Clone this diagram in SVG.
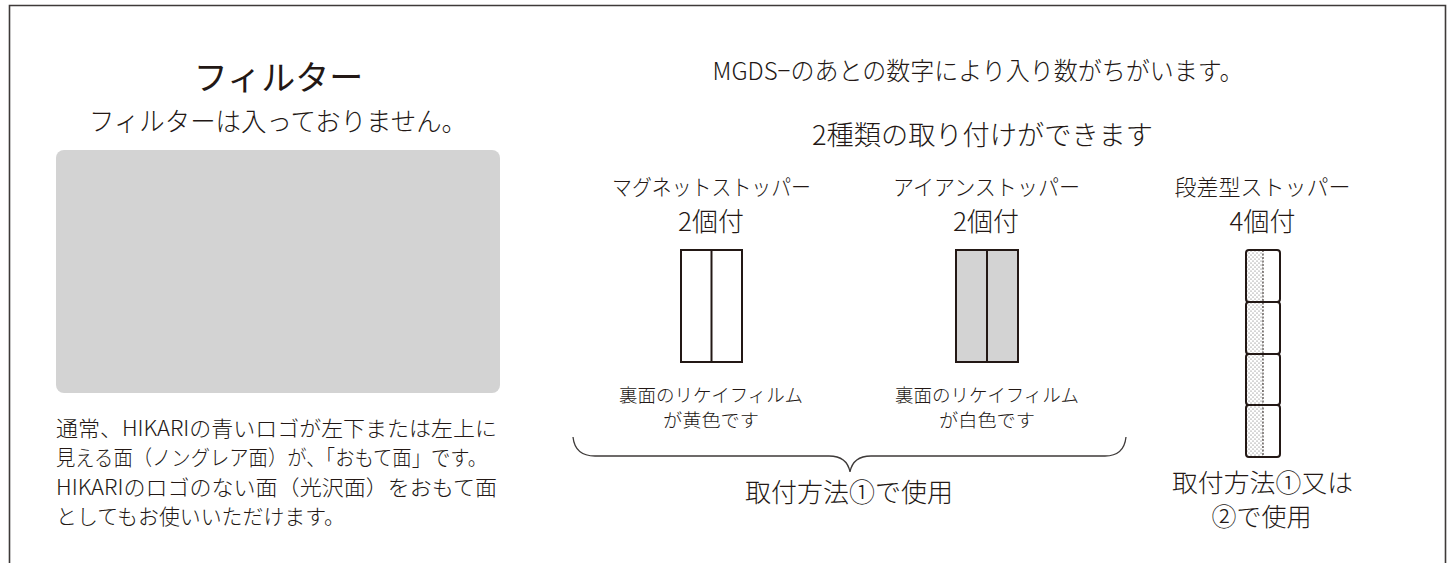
<svg xmlns="http://www.w3.org/2000/svg" width="1452" height="563" viewBox="0 0 1452 563">
<style>
text{font-family:"Noto Sans CJK JP","Liberation Sans",sans-serif;fill:#231815;font-weight:300}
.c{text-anchor:middle}
.ln{fill:none;stroke:#231815;stroke-width:2}
.lbl{font-size:22px}
.cnt{font-size:26px}
.note{font-size:18.5px}
.body{font-size:21px}
</style>
<defs>
<pattern id="dots" width="4" height="4" patternUnits="userSpaceOnUse">
<circle cx="1" cy="1" r="0.55" fill="#555"/>
<circle cx="3" cy="3" r="0.55" fill="#555"/>
</pattern>
</defs>
<rect width="1452" height="563" fill="#fff"/>
<path d="M9.5,563 V5.5 H1445.5 V563" fill="none" stroke="#3e3a39" stroke-width="1.6"/>
<g id="filter">
<text class="c" x="278.5" y="90" font-size="34" style="font-weight:400">フィルター</text>
<text class="c" x="278" y="131" font-size="26.5" textLength="378" lengthAdjust="spacingAndGlyphs">フィルターは入っておりません。</text>
<rect x="56" y="150" width="444" height="243" rx="8" fill="#d3d3d3"/>
<text class="body" x="56" y="436" textLength="441" lengthAdjust="spacingAndGlyphs">通常、HIKARIの青いロゴが左下または左上に</text>
<text class="body" x="56" y="465" textLength="431" lengthAdjust="spacingAndGlyphs">見える面（ノングレア面）が、「おもて面」です。</text>
<text class="body" x="56" y="495" textLength="441" lengthAdjust="spacingAndGlyphs">HIKARIのロゴのない面（光沢面）をおもて面</text>
<text class="body" x="56" y="524" textLength="289" lengthAdjust="spacingAndGlyphs">としてもお使いいただけます。</text>
</g>
<g id="header">
<text class="c" x="978" y="80" font-size="25" textLength="531" lengthAdjust="spacingAndGlyphs">MGDS−のあとの数字により入り数がちがいます。</text>
<text class="c" x="982.5" y="145" font-size="27" textLength="341" lengthAdjust="spacingAndGlyphs">2種類の取り付けができます</text>
</g>
<g id="magnet">
<text class="c lbl" x="711.5" y="195" textLength="199" lengthAdjust="spacingAndGlyphs">マグネットストッパー</text>
<text class="c cnt" x="711" y="231">2個付</text>
<rect class="ln" x="681" y="250" width="61" height="112" fill="#fff"/>
<line class="ln" x1="711.5" y1="250" x2="711.5" y2="362"/>
<text class="c note" x="711" y="402" textLength="184" lengthAdjust="spacingAndGlyphs">裏面のリケイフィルム</text>
<text class="c note" x="711" y="427" textLength="96" lengthAdjust="spacingAndGlyphs">が黄色です</text>
</g>
<g id="iron">
<text class="c lbl" x="986.5" y="195" textLength="187" lengthAdjust="spacingAndGlyphs">アイアンストッパー</text>
<text class="c cnt" x="986" y="231">2個付</text>
<rect class="ln" x="956" y="250" width="62" height="112" style="fill:#d3d3d3"/>
<line class="ln" x1="987" y1="250" x2="987" y2="362"/>
<text class="c note" x="987" y="402" textLength="184" lengthAdjust="spacingAndGlyphs">裏面のリケイフィルム</text>
<text class="c note" x="987" y="427" textLength="96" lengthAdjust="spacingAndGlyphs">が白色です</text>
</g>
<g id="step">
<text class="c lbl" x="1262.5" y="195">段差型ストッパー</text>
<text class="c cnt" x="1262.5" y="231">4個付</text>
<rect x="1246" y="250" width="17" height="207" fill="url(#dots)"/>
<line x1="1263" y1="250" x2="1263" y2="457" stroke="#231815" stroke-width="1" stroke-dasharray="2,1.5"/>
<rect class="ln" x="1246" y="250" width="34" height="52" rx="3"/>
<rect class="ln" x="1246" y="302" width="34" height="52" rx="3"/>
<rect class="ln" x="1246" y="354" width="34" height="51" rx="3"/>
<rect class="ln" x="1246" y="405" width="34" height="52" rx="3"/>
<text class="c" x="1262.5" y="492" font-size="25" textLength="181" lengthAdjust="spacingAndGlyphs">取付方法①又は</text>
<text class="c" x="1261.5" y="526" font-size="25">②で使用</text>
</g>
<g id="connectors">
<path d="M573,437 Q575,456 595,456 L829,456 Q847,456 850,472 Q853,456 871,456 L1105,456 Q1124,456 1126,437" fill="none" stroke="#3e3a39" stroke-width="1.3"/>
</g>
<g id="usage">
<text class="c" x="849" y="502" font-size="26" textLength="208" lengthAdjust="spacingAndGlyphs">取付方法①で使用</text>
</g>
</svg>
